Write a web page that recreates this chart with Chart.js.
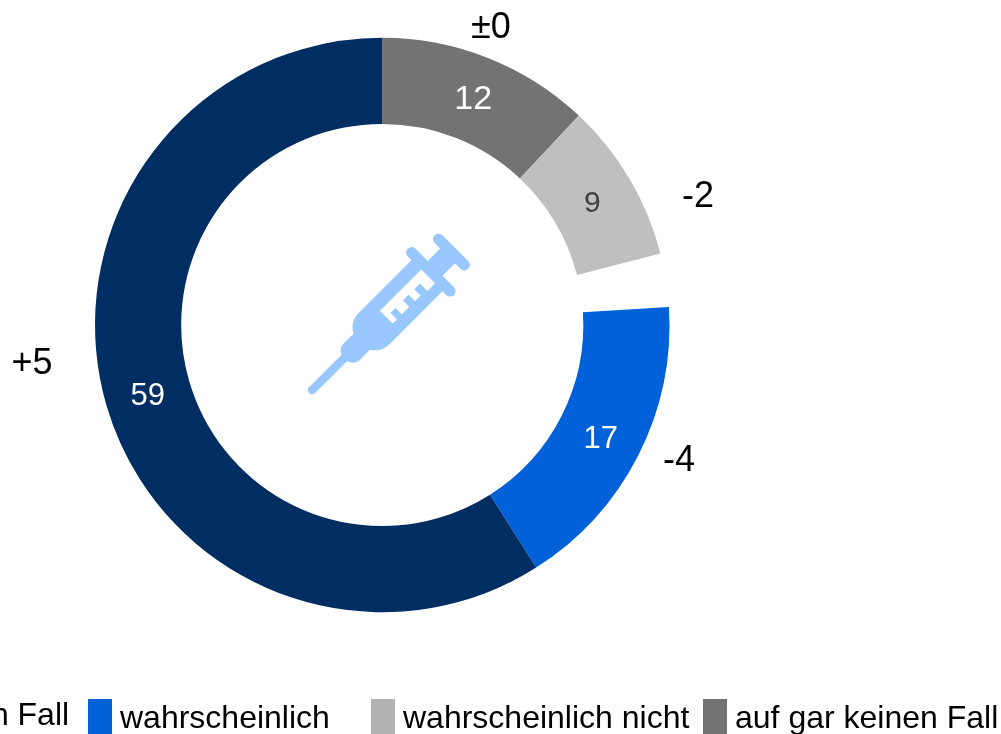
<!DOCTYPE html>
<html><head><meta charset="utf-8">
<style>html,body{margin:0;padding:0;background:#fff;overflow:hidden}canvas{display:block}</style>
<script src="https://cdn.jsdelivr.net/npm/chart.js@4"></script>
</head><body><canvas id="c" width="1001" height="734"></canvas>
<script>
const categories = ["auf gar keinen Fall","wahrscheinlich nicht","keine Angabe","wahrscheinlich","auf jeden Fall"];
const values = [12,9,3,17,59];
const changes = ["±0","-2","","-4","+5"];
const legendOrder = ["auf jeden Fall","wahrscheinlich","wahrscheinlich nicht","auf gar keinen Fall"];

const sliceColors = ["#737373","#BFBFBF","rgba(255,255,255,0)","#0061D8","#002D62"];
const valueColors = ["#fff","#404040","","#fff","#fff"];
const valueSizes = [34,30,0,31,31];
const valueNudge = [[1,2],[0,3],null,[1,4],[0,3]];
const changePos = [[491,28],[698,197],null,[679,461],[32,364]];
const legendSwatches = ["#002D62","#0061D8","#B3B3B3","#737373"];
const legendX = [-155,88,371,703];
const legendBase = [725,728,728,728];
const FONT = '"Liberation Sans", Arial, sans-serif';

function drawSyringe(ctx){
  const col = "#99C7FF";
  ctx.save();
  ctx.translate(311.7,391);
  ctx.rotate(-Math.PI/4);
  ctx.fillStyle = col; ctx.strokeStyle = col; ctx.lineCap = "round";
  ctx.lineWidth = 8.5; ctx.beginPath(); ctx.moveTo(1,-0.3); ctx.lineTo(50,-0.3); ctx.stroke();
  ctx.beginPath(); ctx.roundRect(46,-11,40,23,10); ctx.fill();
  ctx.beginPath(); ctx.roundRect(68,-22,102,44,[20,0,0,20]); ctx.fill();
  ctx.fillRect(165,-10,32,21);
  ctx.lineWidth = 11;
  ctx.beginPath(); ctx.moveTo(168.5,-27.2); ctx.lineTo(168.5,27.2); ctx.stroke();
  ctx.beginPath(); ctx.moveTo(197,-17.7); ctx.lineTo(197,18.7); ctx.stroke();
  ctx.fillStyle = "#fff";
  ctx.beginPath();
  const p = [[105,-8.5],[163.5,-8.5],[163.5,11],[152.5,11],[152.5,.5],[144.5,.5],[144.5,9.5],[136.5,9.5],[136.5,.5],[128.5,.5],[128.5,9.5],[118,9.5],[118,.5],[111,.5],[111,9.5],[105,9.5]];
  p.forEach((q,i)=> i?ctx.lineTo(q[0],q[1]):ctx.moveTo(q[0],q[1]));
  ctx.closePath(); ctx.fill();
  ctx.restore();
}

const annotate = {
  id:"annotate",
  afterDatasetsDraw(chart){
    const ctx = chart.ctx, arcs = chart.getDatasetMeta(0).data;
    ctx.save();
    ctx.textAlign = "center"; ctx.textBaseline = "middle";
    arcs.forEach((a,i)=>{
      if(!valueSizes[i]) return;
      const pos = a.tooltipPosition();
      ctx.fillStyle = valueColors[i];
      ctx.font = valueSizes[i]+"px "+FONT;
      ctx.fillText(String(values[i]),pos.x+valueNudge[i][0],pos.y+valueNudge[i][1]);
    });
    ctx.fillStyle = "#000"; ctx.font = "36px "+FONT;
    changes.forEach((t,i)=>{ if(t) ctx.fillText(t,changePos[i][0],changePos[i][1]); });
    drawSyringe(ctx);
    ctx.textAlign = "left"; ctx.textBaseline = "alphabetic"; ctx.font = "32px "+FONT;
    legendOrder.forEach((t,i)=>{
      ctx.fillStyle = legendSwatches[i];
      ctx.fillRect(legendX[i]+(i===0?1:0),699,24,35);
      ctx.fillStyle = "#000";
      ctx.fillText(t,legendX[i]+32,legendBase[i]);
    });
    ctx.restore();
  }
};

new Chart(document.getElementById("c"),{
  type:"doughnut",
  data:{labels:categories,datasets:[{data:values,backgroundColor:sliceColors,borderWidth:0,hoverOffset:0}]},
  options:{
    responsive:false,animation:false,cutout:"70%",
    layout:{padding:{left:95,right:331.5,top:37.75,bottom:121.75}},
    plugins:{legend:{display:false},tooltip:{enabled:false}}
  },
  plugins:[annotate]
});
</script></body></html>
